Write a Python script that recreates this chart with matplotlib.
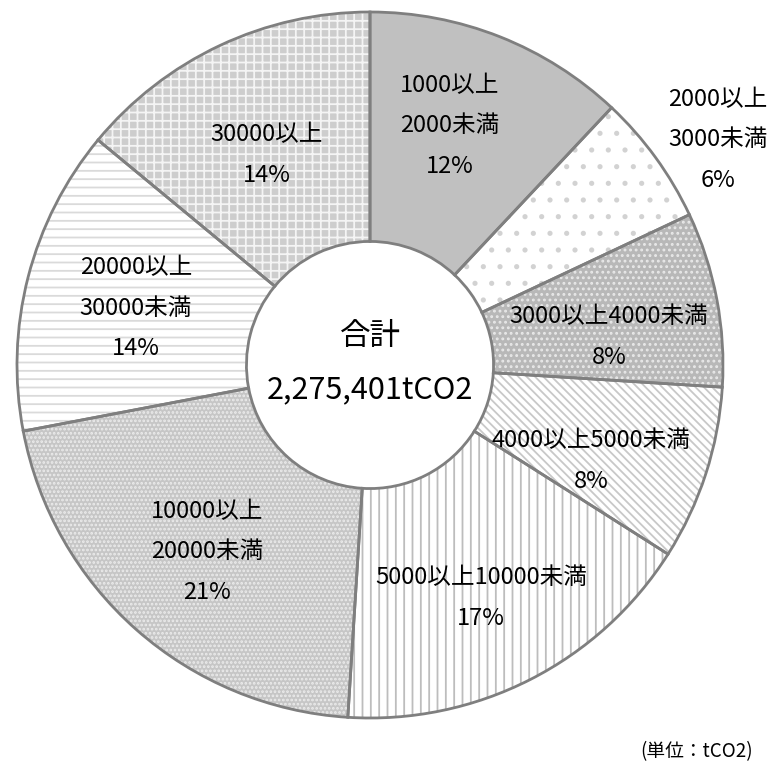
import matplotlib.pyplot as plt

plt.rcParams['font.family'] = ['Noto Sans CJK JP', 'DejaVu Sans']
plt.rcParams['hatch.linewidth'] = 1.3

# データ（規模別の排出量割合）
categories = ["1000以上\n2000未満", "2000以上\n3000未満", "3000以上4000未満",
              "4000以上5000未満", "5000以上10000未満", "10000以上\n20000未満",
              "20000以上\n30000未満", "30000以上"]
shares = [12, 6, 8, 8, 17, 21, 14, 14]
total_label = "2,275,401tCO2"

# 塗りとハッチ（面の色, ハッチ, ハッチ色）
faces = ['#c0c0c0', 'white', '#b8b8b8', 'white', 'white', '#c6c6c6', 'white', '#cdcdcd']
hatches = [None, '.', '...', '\\\\\\\\', '||', '....', '--', '++']
hatch_cols = ['#c0c0c0', '#d2d2d2', '#e8e8e8', '#c8c8c8', '#bdbdbd', '#ececec', '#dadada', '#f4f4f4']

# ラベル位置（ピクセル）
label_px = [(450, 126), (718, 140), (609, 337), (591, 461),
            (481, 598), (207, 552), (136, 308), (267, 155)]

W, H = 775, 768
fig = plt.figure(figsize=(W / 100, H / 100), dpi=100)
cx, cy, r = 370, 365, 353
ax = fig.add_axes([(cx - r) / W, (H - cy - r) / H, 2 * r / W, 2 * r / H])
ax.set_xlim(-1, 1)
ax.set_ylim(-1, 1)
ax.axis('off')

wedges, _ = ax.pie(shares, startangle=90, counterclock=False, radius=1,
                   wedgeprops=dict(width=0.65, linewidth=0))
for w, fc, h, hc in zip(wedges, faces, hatches, hatch_cols):
    w.set_facecolor(fc)
    w.set_edgecolor(hc)
    w.set_linewidth(0)
    if h:
        w.set_hatch(h)

# 枠線
ax.pie(shares, startangle=90, counterclock=False, radius=1,
       wedgeprops=dict(width=0.65, linewidth=2, edgecolor='#7f7f7f', fill=False))
ax.set_xlim(-1, 1)
ax.set_ylim(-1, 1)

for cat, s, (px, py) in zip(categories, shares, label_px):
    fig.text(px / W, 1 - py / H, f"{cat}\n{s}%", ha='center', va='center',
             fontsize=17, linespacing=1.95, color='black')

fig.text(cx / W, 1 - 337 / H, "合計", ha='center', va='center', fontsize=22)
fig.text(cx / W, 1 - 390 / H, total_label, ha='center', va='center', fontsize=22)
fig.text(697 / W, 1 - 752 / H, "(単位：tCO2)", ha='center', va='center', fontsize=13.5)

fig.savefig('out.png', dpi=100)
